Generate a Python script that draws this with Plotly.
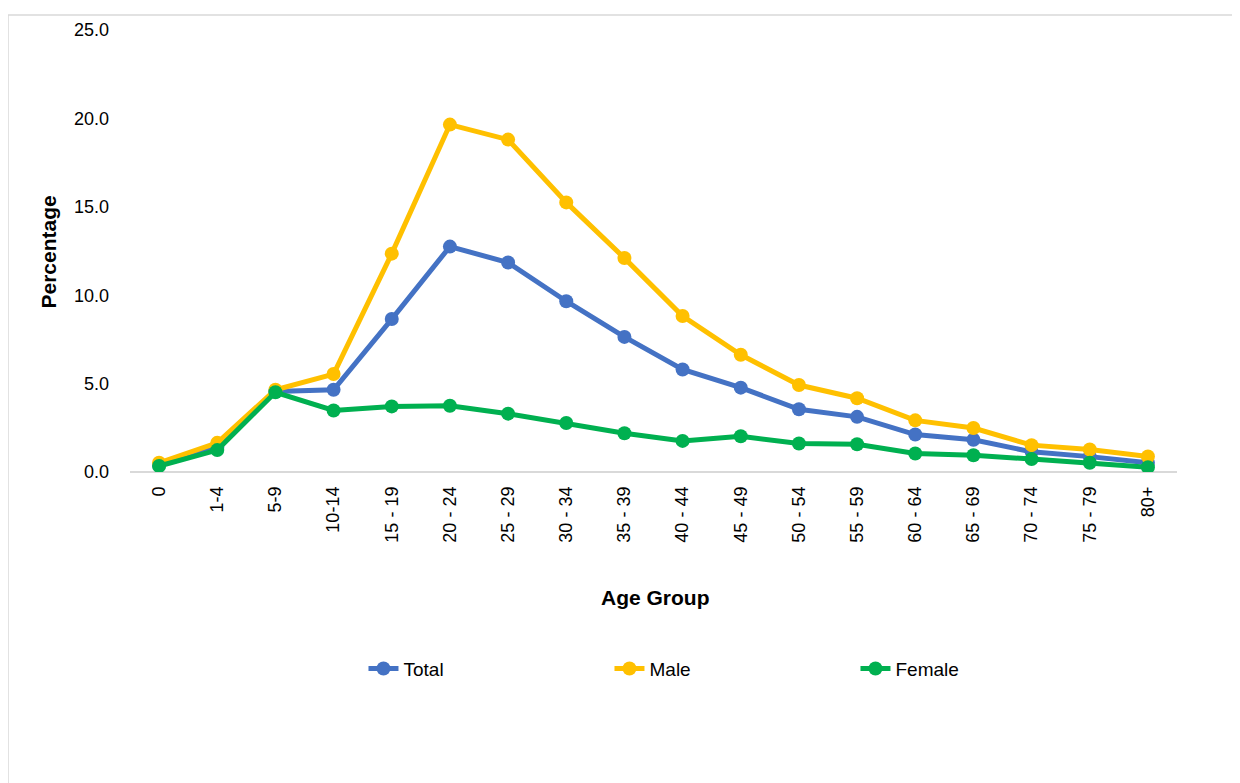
import plotly.graph_objects as go

age_groups = ["0", "1-4", "5-9", "10-14", "15 - 19", "20 - 24", "25 - 29", "30 - 34",
              "35 - 39", "40 - 44", "45 - 49", "50 - 54", "55 - 59", "60 - 64",
              "65 - 69", "70 - 74", "75 - 79", "80+"]
total = [0.4, 1.4, 4.55, 4.65, 8.65, 12.75, 11.85, 9.66, 7.64, 5.8, 4.77, 3.55, 3.12,
         2.12, 1.82, 1.14, 0.87, 0.52]
male = [0.52, 1.65, 4.65, 5.54, 12.35, 19.65, 18.8, 15.25, 12.1, 8.82, 6.63, 4.92, 4.17,
        2.92, 2.49, 1.52, 1.27, 0.88]
female = [0.34, 1.24, 4.51, 3.48, 3.71, 3.75, 3.3, 2.77, 2.19, 1.76, 2.02, 1.61, 1.57,
          1.05, 0.95, 0.73, 0.52, 0.27]

series = [("Total", total, "#4472C4"), ("Male", male, "#FFC000"), ("Female", female, "#00B050")]

FONT = "Liberation Sans, Arial, sans-serif"

fig = go.Figure()
for name, vals, color in series:
    fig.add_trace(go.Scatter(
        x=age_groups, y=vals, name=name, mode="lines+markers",
        line=dict(color=color, width=5),
        marker=dict(color=color, size=14),
    ))

fig.update_layout(
    width=1232, height=775,
    margin=dict(l=122, r=63, t=19, b=311),
    paper_bgcolor="white", plot_bgcolor="white",
    font=dict(family=FONT, size=18, color="#000000"),
    showlegend=True,
    legend=dict(orientation="h", x=0.223, xanchor="left", y=-0.445, yanchor="middle",
                entrywidth=201, entrywidthmode="pixels",
                font=dict(family=FONT, size=19, color="#000000")),
    xaxis=dict(type="category", range=[-0.5, 17.5], tickangle=-90, showgrid=False,
               showline=False, ticks="", ticklabelstandoff=10, tickfont=dict(size=18)),
    yaxis=dict(range=[0, 25], dtick=5, tickformat=".1f", showgrid=False, zeroline=True,
               zerolinecolor="#D9D9D9", zerolinewidth=2, showline=False, ticks="",
               ticklabelstandoff=20, tickfont=dict(size=18)),
    shapes=[dict(type="rect", xref="paper", yref="paper",
                 x0=(8 - 130) / 1047, x1=(1238 - 130) / 1047,
                 y0=-1.0, y1=1 + (27 - 12) / 445,
                 line=dict(color="#D9D9D9", width=1.5), layer="below")],
    annotations=[
        dict(text="<b>Percentage</b>", xref="paper", yref="paper",
             x=(48 - 130) / 1047, y=(472 - 251) / 445, textangle=-90, showarrow=False,
             xanchor="center", yanchor="middle",
             font=dict(family=FONT, size=21)),
        dict(text="<b>Age Group</b>", xref="paper", yref="paper",
             x=(655 - 130) / 1047, y=(472 - 598) / 445, showarrow=False,
             xanchor="center", yanchor="middle",
             font=dict(family=FONT, size=21)),
    ],
)

fig.write_html("out.html")
